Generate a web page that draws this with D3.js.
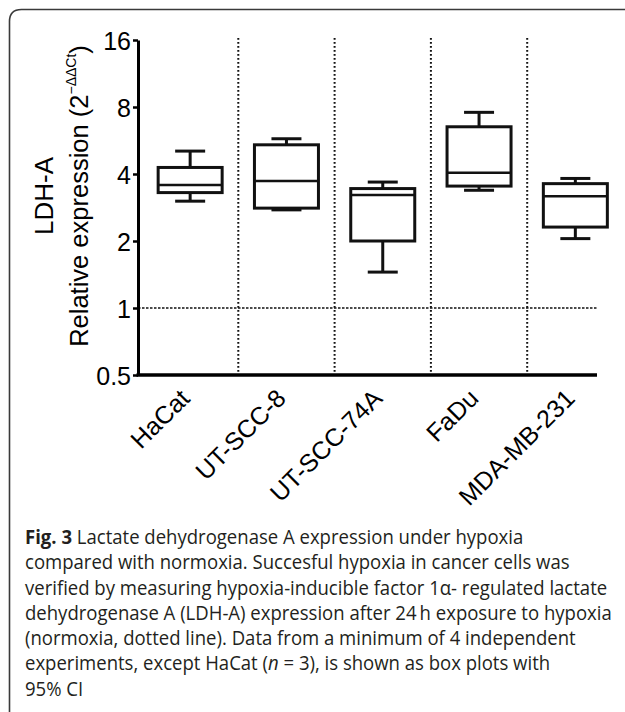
<!DOCTYPE html>
<html><head><meta charset="utf-8">
<script src="https://cdn.jsdelivr.net/npm/d3@7"></script>
<style>html,body{margin:0;padding:0;background:#fff;}svg{display:block;}</style>
</head><body>
<script>
const categories = ["HaCat","UT-SCC-8","UT-SCC-74A","FaDu","MDA-MB-231"];
const whiskerLow  = [3.02, 2.76, 1.45, 3.38, 2.05];
const q1          = [3.30, 2.81, 2.00, 3.53, 2.31];
const median      = [3.57, 3.72, 3.22, 4.05, 3.18];
const q3          = [4.28, 5.41, 3.44, 6.52, 3.62];
const whiskerHigh = [5.07, 5.76, 3.68, 7.57, 3.82];
const yTicks = [0.5, 1, 2, 4, 8, 16];
const normoxia = 1;
const captionLines = [
  [{t:"Fig. 3", b:true},{t:" Lactate dehydrogenase A expression under hypoxia"}],
  [{t:"compared with normoxia. Succesful hypoxia in cancer cells was"}],
  [{t:"verified by measuring hypoxia-inducible factor 1α- regulated lactate"}],
  [{t:"dehydrogenase A (LDH-A) expression after 24\u2009h exposure to hypoxia"}],
  [{t:"(normoxia, dotted line). Data from a minimum of 4 independent"}],
  [{t:"experiments, except HaCat ("},{t:"n", i:true},{t:" = 3), is shown as box plots with"}],
  [{t:"95% CI"}]
];

const W = 625, H = 712;
const svg = d3.select("body").append("svg").attr("width", W).attr("height", H);
const font = "'Liberation Sans', Arial, Helvetica, sans-serif";

// frame (top + left, rounded corner)
const r = 12;
svg.append("path")
  .attr("d", `M9.5,${H} L9.5,${9.5+r} Q9.5,9.5 ${9.5+r},9.5 L${W},9.5`)
  .attr("fill","none").attr("stroke","#3a3a3a").attr("stroke-width",1.6);

const y = d3.scaleLog().base(2).domain([0.5, 16]).range([375, 40]);
const x = d3.scaleBand().domain(categories).range([142, 623.5]);
const axisX0 = 138, axisX1 = 597;

// vertical dotted separators
svg.append("g").selectAll("line").data(categories.slice(1)).join("line")
  .attr("x1", d => x(d)).attr("x2", d => x(d))
  .attr("y1", y(16) - 2).attr("y2", y(0.5))
  .attr("stroke","#111").attr("stroke-width",2).attr("stroke-dasharray","1.8,2.2");

// normoxia dotted line
svg.append("line")
  .attr("x1", axisX0).attr("x2", axisX1 + 1)
  .attr("y1", y(normoxia)).attr("y2", y(normoxia))
  .attr("stroke","#111").attr("stroke-width",1.6).attr("stroke-dasharray","2.5,1.5");

// y axis
const yAxis = d3.axisLeft(y).tickValues(yTicks).tickFormat(d3.format("")).tickSize(5).tickSizeOuter(0).tickPadding(2);
const gy = svg.append("g").attr("transform", `translate(${axisX0},0)`).call(yAxis);
gy.select(".domain").attr("stroke","#000").attr("stroke-width",3);
gy.selectAll(".tick line").attr("stroke","#000").attr("stroke-width",2.5);
gy.selectAll(".tick text").attr("font-family", font).attr("font-size", 25).attr("fill","#000").attr("dy","0.36em");

// x axis line
svg.append("line").attr("x1", axisX0 - 1.5).attr("x2", axisX1)
  .attr("y1", y(0.5)).attr("y2", y(0.5)).attr("stroke","#000").attr("stroke-width",3.5);

// x labels
svg.append("g").selectAll("text").data(categories).join("text")
  .attr("transform", d => `translate(${x(d) + x.bandwidth()/2 + 1},${y(0.5) + 25}) rotate(-45)`)
  .attr("text-anchor","end").attr("font-family", font).attr("font-size", 25).attr("fill","#000")
  .text(d => d);

// boxes
const boxW = 64, capW = 30;
const data = categories.map((c,i) => ({c, lo:whiskerLow[i], q1:q1[i], med:median[i], q3:q3[i], hi:whiskerHigh[i]}));
const gb = svg.append("g").selectAll("g").data(data).join("g")
  .attr("transform", d => `translate(${x(d.c) + x.bandwidth()/2},0)`);
gb.append("line").attr("x1",0).attr("x2",0).attr("y1",d=>y(d.hi)).attr("y2",d=>y(d.q3)).attr("stroke","#111").attr("stroke-width",3);
gb.append("line").attr("x1",0).attr("x2",0).attr("y1",d=>y(d.q1)).attr("y2",d=>y(d.lo)).attr("stroke","#111").attr("stroke-width",3);
gb.append("line").attr("x1",-capW/2).attr("x2",capW/2).attr("y1",d=>y(d.hi)).attr("y2",d=>y(d.hi)).attr("stroke","#111").attr("stroke-width",3);
gb.append("line").attr("x1",-capW/2).attr("x2",capW/2).attr("y1",d=>y(d.lo)).attr("y2",d=>y(d.lo)).attr("stroke","#111").attr("stroke-width",3);
gb.append("rect").attr("x",-boxW/2).attr("width",boxW)
  .attr("y",d=>y(d.q3)).attr("height",d=>y(d.q1)-y(d.q3))
  .attr("fill","#fff").attr("stroke","#111").attr("stroke-width",3);
gb.append("line").attr("x1",-boxW/2).attr("x2",boxW/2).attr("y1",d=>y(d.med)).attr("y2",d=>y(d.med)).attr("stroke","#111").attr("stroke-width",2.6);

// y title
const cy = 196;
svg.append("text").attr("transform",`translate(53,${cy}) rotate(-90)`)
  .attr("text-anchor","middle").attr("font-family",font).attr("font-size",26).attr("fill","#000").text("LDH-A");
const t2 = svg.append("text").attr("transform",`translate(88,${cy}) rotate(-90)`)
  .attr("text-anchor","middle").attr("font-family",font).attr("font-size",25.5).attr("fill","#000");
t2.append("tspan").text("Relative expression (2");
t2.append("tspan").attr("font-size",14).attr("dy",-12).text("\u2212\u0394\u0394Ct");
t2.append("tspan").attr("dy",12).text(")");

// caption (horizontally condensed to match the narrow caption face)
const capFont = "'Open Sans', 'Noto Sans', sans-serif";
const capX = 25;
const cap = svg.append("g");
const texts = captionLines.map((line, i) => {
  const t = cap.append("text").attr("x", 0).attr("y", 544 + i*25.3)
    .attr("font-family", capFont).attr("font-size", 19.5).attr("fill","#231f20");
  line.forEach(s => {
    const ts = t.append("tspan").text(s.t);
    if (s.b) ts.attr("font-weight","bold");
    if (s.i) ts.attr("font-style","italic");
  });
  return t;
});
const w4 = texts[3].node().getComputedTextLength();
const k = 587 / w4;
cap.attr("transform", `translate(${capX},0) scale(${k},1)`);
</script>
</body></html>
